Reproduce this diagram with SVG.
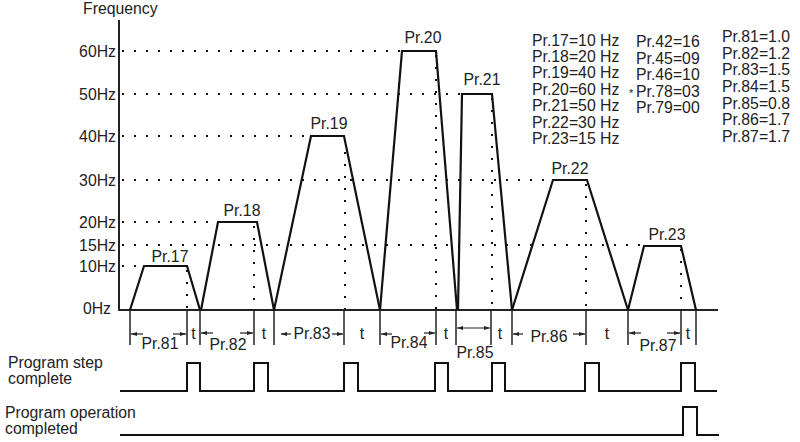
<svg xmlns="http://www.w3.org/2000/svg" width="800" height="442" viewBox="0 0 800 442">
<style>
text{font-family:"Liberation Sans",Arial,sans-serif;font-size:15.8px;fill:#222}
.m{text-anchor:middle}
.e{text-anchor:end}
.ax{stroke:#222;stroke-width:2;fill:none}
.tr{stroke:#111;stroke-width:2.2;fill:none;stroke-linejoin:miter}
.dot{stroke:#111;stroke-width:2;stroke-dasharray:2 10;fill:none}
.tk{stroke:#222;stroke-width:1.5}
.ar{stroke:#222;stroke-width:1.2;fill:none}
.pl{stroke:#111;stroke-width:2;fill:none}
</style>
<defs>
<marker id="ah" viewBox="0 0 10 10" refX="10" refY="5" markerWidth="6" markerHeight="6" orient="auto-start-reverse" markerUnits="userSpaceOnUse">
<path d="M0,1.5 L10,5 L0,8.5 z" fill="#222"/>
</marker>
</defs>
<rect width="800" height="442" fill="#fff"/>
<g id="axes">
<text x="83" y="14">Frequency</text>
<line class="ax" x1="119" y1="20" x2="119" y2="311"/>
<line class="ax" x1="118" y1="310" x2="718" y2="310"/>
<text class="e" x="116" y="56.5">60Hz</text>
<text class="e" x="116" y="99.5">50Hz</text>
<text class="e" x="116" y="141.5">40Hz</text>
<text class="e" x="116" y="185.5">30Hz</text>
<text class="e" x="116" y="227.5">20Hz</text>
<text class="e" x="116" y="250.5">15Hz</text>
<text class="e" x="116" y="271.5">10Hz</text>
<text class="e" x="111" y="314">0Hz</text>
</g>
<g id="gridlines">
<line class="dot" x1="122" y1="51" x2="402" y2="51"/>
<line class="dot" x1="122" y1="94" x2="462" y2="94"/>
<line class="dot" x1="122" y1="136" x2="311" y2="136"/>
<line class="dot" x1="122" y1="180" x2="553" y2="180"/>
<line class="dot" x1="122" y1="222" x2="218" y2="222"/>
<line class="dot" x1="122" y1="245" x2="644" y2="245"/>
<line class="dot" x1="122" y1="266" x2="144" y2="266"/>
<line class="dot" x1="187" y1="270" x2="187" y2="310"/>
<line class="dot" x1="254" y1="226" x2="254" y2="310"/>
<line class="dot" x1="345" y1="140" x2="345" y2="310"/>
<line class="dot" x1="436" y1="55" x2="436" y2="310"/>
<line class="dot" x1="492" y1="98" x2="492" y2="310"/>
<line class="dot" x1="586" y1="184" x2="586" y2="310"/>
<line class="dot" x1="681" y1="249" x2="681" y2="310"/>
</g>
<g id="pr17"><polyline class="tr" points="130,310 144,266 187,266 200,310"/><text class="m" x="170" y="262">Pr.17</text></g>
<g id="pr18"><polyline class="tr" points="201,310 218,222 257,222 274,310"/><text class="m" x="242" y="216">Pr.18</text></g>
<g id="pr19"><polyline class="tr" points="274,310 311,136 344,136 380,310"/><text class="m" x="329" y="129">Pr.19</text></g>
<g id="pr20"><polyline class="tr" points="380,310 402,51 436,51 457,310"/><text class="m" x="423" y="43">Pr.20</text></g>
<g id="pr21"><polyline class="tr" points="458,310 462,94 492,94 512,310"/><text class="m" x="482" y="85">Pr.21</text></g>
<g id="pr22"><polyline class="tr" points="512,310 553,180 587,180 628,310"/><text class="m" x="570" y="174">Pr.22</text></g>
<g id="pr23"><polyline class="tr" points="628,310 644,246 681,246 696,310"/><text class="m" x="667" y="240">Pr.23</text></g>
<g id="params">
<text x="532" y="45.5">Pr.17=10 Hz</text>
<text x="532" y="61.9">Pr.18=20 Hz</text>
<text x="532" y="78.3">Pr.19=40 Hz</text>
<text x="532" y="94.7">Pr.20=60 Hz</text>
<text x="532" y="111.1">Pr.21=50 Hz</text>
<text x="532" y="127.5">Pr.22=30 Hz</text>
<text x="532" y="143.9">Pr.23=15 Hz</text>
<text x="636" y="47">Pr.42=16</text>
<text x="636" y="63.5">Pr.45=09</text>
<text x="636" y="80">Pr.46=10</text>
<text x="629" y="96.5"><tspan font-size="11">*</tspan><tspan x="636">Pr.78=03</tspan></text>
<text x="636" y="113">Pr.79=00</text>
<text x="722" y="42">Pr.81=1.0</text>
<text x="722" y="58.7">Pr.82=1.2</text>
<text x="722" y="75.4">Pr.83=1.5</text>
<text x="722" y="92">Pr.84=1.5</text>
<text x="722" y="108.7">Pr.85=0.8</text>
<text x="722" y="125.4">Pr.86=1.7</text>
<text x="722" y="142">Pr.87=1.7</text>
</g>
<g id="ticks">
<line class="tk" x1="130" y1="310" x2="130" y2="345"/>
<line class="tk" x1="187" y1="310" x2="187" y2="345"/>
<line class="tk" x1="200" y1="310" x2="200" y2="345"/>
<line class="tk" x1="254" y1="310" x2="254" y2="345"/>
<line class="tk" x1="274" y1="310" x2="274" y2="345"/>
<line class="tk" x1="344" y1="310" x2="344" y2="345"/>
<line class="tk" x1="380" y1="310" x2="380" y2="345"/>
<line class="tk" x1="436" y1="310" x2="436" y2="345"/>
<line class="tk" x1="456" y1="310" x2="456" y2="345"/>
<line class="tk" x1="491" y1="310" x2="491" y2="345"/>
<line class="tk" x1="512" y1="310" x2="512" y2="345"/>
<line class="tk" x1="586" y1="310" x2="586" y2="345"/>
<line class="tk" x1="628" y1="310" x2="628" y2="345"/>
<line class="tk" x1="681" y1="310" x2="681" y2="345"/>
<line class="tk" x1="696" y1="310" x2="696" y2="345"/>
</g>
<g id="connectors">
<line class="ar" x1="143" y1="334" x2="131" y2="334" marker-end="url(#ah)"/>
<line class="ar" x1="173" y1="334" x2="186" y2="334" marker-end="url(#ah)"/>
<line class="ar" x1="213" y1="333" x2="201" y2="333" marker-end="url(#ah)"/>
<line class="ar" x1="240" y1="333" x2="253" y2="333" marker-end="url(#ah)"/>
<line class="ar" x1="291" y1="334" x2="281" y2="334" marker-end="url(#ah)"/>
<line class="ar" x1="332" y1="334" x2="343" y2="334" marker-end="url(#ah)"/>
<line class="ar" x1="392" y1="334" x2="381" y2="334" marker-end="url(#ah)"/>
<line class="ar" x1="424" y1="333" x2="435" y2="333" marker-end="url(#ah)"/>
<line class="ar" x1="457" y1="328" x2="490" y2="328" marker-start="url(#ah)" marker-end="url(#ah)"/>
<line class="ar" x1="523" y1="334" x2="513" y2="334" marker-end="url(#ah)"/>
<line class="ar" x1="573" y1="334" x2="585" y2="334" marker-end="url(#ah)"/>
<line class="ar" x1="641" y1="333" x2="629" y2="333" marker-end="url(#ah)"/>
<line class="ar" x1="667" y1="333" x2="680" y2="333" marker-end="url(#ah)"/>
</g>
<g id="dimlabels">
<text class="m" x="160" y="349">Pr.81</text>
<text class="m" x="193.5" y="339">t</text>
<text class="m" x="228" y="350">Pr.82</text>
<text class="m" x="264" y="339">t</text>
<text class="m" x="312" y="339">Pr.83</text>
<text class="m" x="362" y="339">t</text>
<text class="m" x="409" y="348">Pr.84</text>
<text class="m" x="446" y="339">t</text>
<text class="m" x="475" y="358">Pr.85</text>
<text class="m" x="500" y="339">t</text>
<text class="m" x="549" y="342">Pr.86</text>
<text class="m" x="607" y="339">t</text>
<text class="m" x="658" y="351">Pr.87</text>
<text class="m" x="688" y="339">t</text>
</g>
<g id="step-signal">
<text x="8" y="368">Program step</text>
<text x="8" y="384">complete</text>
<polyline class="pl" points="120,391 187,391 187,363 200,363 200,391 254,391 254,363 268,363 268,391 344,391 344,363 358,363 358,391 435,391 435,363 448,363 448,391 492,391 492,363 505,363 505,391 585,391 585,363 599,363 599,391 681,391 681,363 695,363 695,391 717,391"/>
</g>
<g id="operation-signal">
<text x="5" y="418">Program operation</text>
<text x="5" y="434">completed</text>
<polyline class="pl" points="120,435 683,435 683,407 697,407 697,435 719,435"/>
</g>
</svg>
